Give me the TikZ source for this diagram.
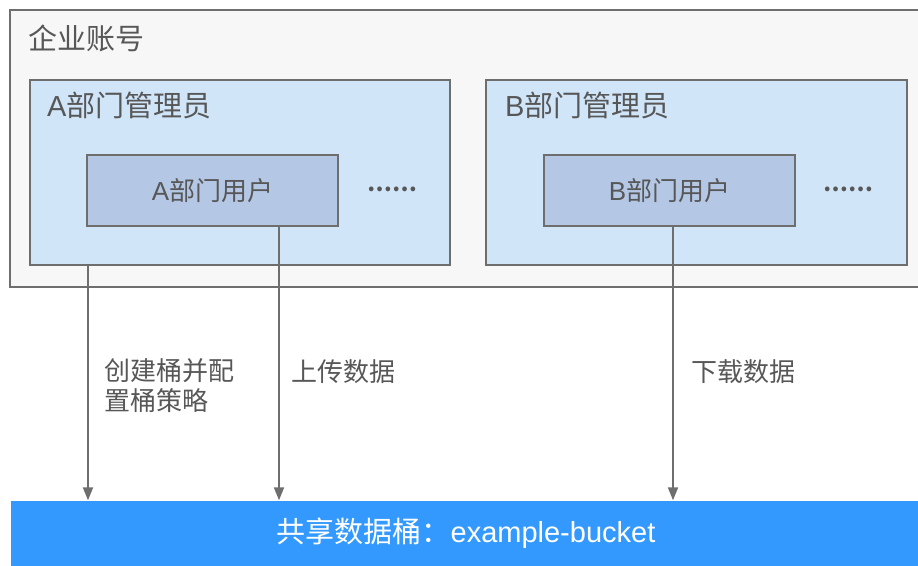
\documentclass[tikz,border=0pt]{standalone}
\usepackage{fontspec}
\setmainfont{Liberation Sans}
\newfontfamily\cjk{Noto Sans CJK SC}
\usetikzlibrary{arrows.meta}
\definecolor{boxline}{HTML}{6E6E6E}
\definecolor{textgray}{HTML}{575757}
\definecolor{accountfill}{HTML}{F7F7F7}
\definecolor{adminfill}{HTML}{D1E5F9}
\definecolor{userfill}{HTML}{B4C7E5}
\definecolor{bucketfill}{HTML}{3399FF}
\begin{document}
\begin{tikzpicture}[x=1pt,y=-1pt,
    boxframe/.style={draw=boxline,line width=2pt,inner sep=0pt},
    txt/.style={text=textgray,font=\fontsize{26}{30}\selectfont,inner sep=0pt},
    bigtxt/.style={txt,font=\fontsize{29}{33}\selectfont},
    flow/.style={draw=boxline,line width=2pt,-{Triangle[length=13pt,width=10pt]}}]
    \useasboundingbox (0,0) rectangle (918,565);
    \clip (0,0) rectangle (918,565);

    % account and departments
    \node[boxframe,fill=accountfill,minimum width=916pt,minimum height=277pt] (account) at (468,148.5) {};
    \node[bigtxt,anchor=west] (accountlabel) at (28,38) {\cjk 企业账号};

    \node[boxframe,fill=adminfill,minimum width=420pt,minimum height=185pt] (adminA) at (240,172.5) {};
    \node[bigtxt,anchor=west] (adminAlabel) at (47,105) {A{\cjk 部门管理员}};
    \node[boxframe,fill=userfill,minimum width=251pt,minimum height=71pt,txt] (userA) at (212.5,190.5) {A{\cjk 部门用户}};
    \node[txt,font=\fontsize{22}{26}\bfseries] (moreA) at (392,189) {\cjk ……};

    \node[boxframe,fill=adminfill,minimum width=421pt,minimum height=185pt] (adminB) at (696.5,172.5) {};
    \node[bigtxt,anchor=west] (adminBlabel) at (505,105) {B{\cjk 部门管理员}};
    \node[boxframe,fill=userfill,minimum width=251pt,minimum height=71pt,txt] (userB) at (669.5,190.5) {B{\cjk 部门用户}};
    \node[txt,font=\fontsize{22}{26}\bfseries] (moreB) at (848,189) {\cjk ……};

    % shared bucket
    \node[fill=bucketfill,minimum width=910pt,minimum height=65pt,text=white,font=\fontsize{29}{33}\selectfont] (bucket) at (466,533) {{\cjk 共享数据桶：}example-bucket};

    % flows
    \coordinate (colA) at (88,0);
    \coordinate (colB) at (279,0);
    \coordinate (colC) at (673,0);
    \draw[flow] (adminA.south -| colA) -- (bucket.north -| colA);
    \draw[flow] (userA.south -| colB) -- (bucket.north -| colB);
    \draw[flow] (userB.south -| colC) -- (bucket.north -| colC);

    \node[txt,anchor=north west,align=left] (createtxt) at (104,358) {\cjk 创建桶并配\\\cjk 置桶策略};
    \node[txt,anchor=west] (uploadtxt) at (291,372) {\cjk 上传数据};
    \node[txt,anchor=west] (downloadtxt) at (691,372) {\cjk 下载数据};
  \end{tikzpicture}
\end{document}
